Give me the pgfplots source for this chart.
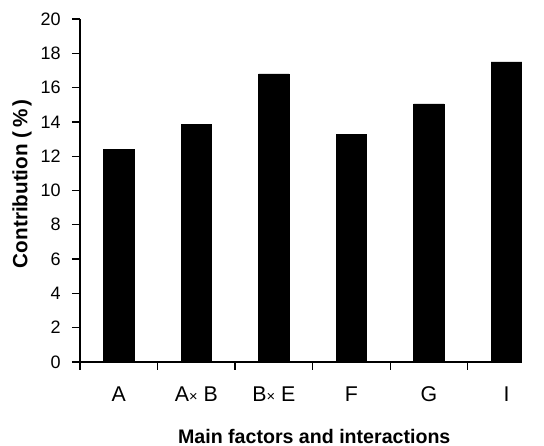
\documentclass[border=0pt]{standalone}
\usepackage{fontspec}
\setmainfont{Liberation Sans}
\usepackage{pgfplots}
\pgfplotsset{compat=1.18}
\begin{document}
\begin{tikzpicture}
\begin{axis}[name=ax, scale only axis, width=331.5pt, height=257.25pt,
  xmin=-0.5, xmax=5.2, ymin=0, ymax=20,
  axis x line*=bottom, axis y line*=left,
  axis line style={line width=1pt, -},
  ytick={0,2,...,20},
  xtick={0,...,5}, xticklabels={A,A{\fontsize{11}{12}\selectfont×} B,B{\fontsize{11}{12}\selectfont×} E,F,G,I},
  major x tick style={draw=none},
  minor xtick={-0.5,0.5,1.5,2.5,3.5,4.5},
  minor tick length=6pt, major tick length=6pt,
  tick align=outside,
  tick style={black, line width=1pt},
  yticklabel style={font=\fontsize{13.5}{15}\selectfont, xshift=-5pt},
  xticklabel style={font=\fontsize{16}{18}\selectfont, anchor=center, yshift=-18pt},
  /pgf/number format/assume math mode=true,
  ybar, bar width=22.9pt,
  ylabel={\bfseries\fontsize{15.5}{17}\selectfont Contribution (\,\%\,)},
  xlabel={\bfseries\fontsize{14.7}{16}\selectfont Main factors and interactions},
  every axis y label/.style={at={(axis description cs:-0.1312,0.52)}, rotate=90, anchor=center},
  every axis x label/.style={at={(axis description cs:0.53,-0.2177)}, anchor=center},
]
\addplot[fill=black, draw=black] coordinates {(0,12.4) (1,13.85) (2,16.8) (3,13.25) (4,15.05) (5,17.5)};
\end{axis}
\pgfresetboundingbox
\path[use as bounding box] ([shift={(-60pt,271.5pt)}]ax.south west) rectangle ([shift={(348pt,-63pt)}]ax.south west);
\end{tikzpicture}
\end{document}
